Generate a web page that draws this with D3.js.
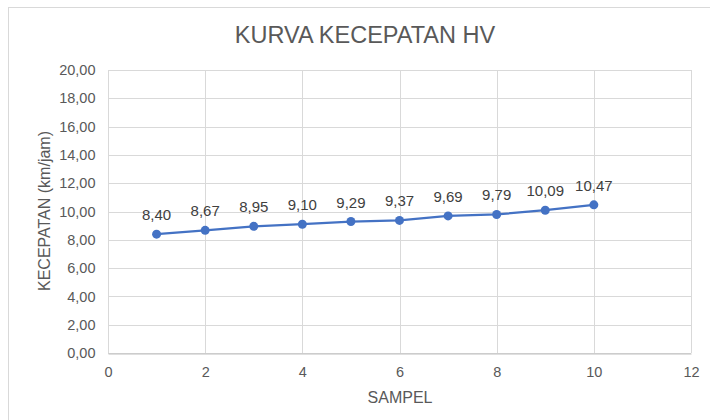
<!DOCTYPE html>
<html>
  <head>
    <meta charset="utf-8">
    <title>Kurva Kecepatan HV</title>
    <script src="https://d3js.org/d3.v7.min.js"></script>
    <style>
      body { margin: 0; background: #fff; }
      text { font-family: "Liberation Sans", Arial, sans-serif; }
    </style>
  </head>
  <body>
    <script>
      const sampel = [1, 2, 3, 4, 5, 6, 7, 8, 9, 10];
      const kecepatan = [8.40, 8.67, 8.95, 9.10, 9.29, 9.37, 9.69, 9.79, 10.09, 10.47];
      const xTicks = [0, 2, 4, 6, 8, 10, 12];
      const yTicks = [0, 2, 4, 6, 8, 10, 12, 14, 16, 18, 20];

      const width = 710, height = 420;
      const margin = {top: 70, right: 19, bottom: 67, left: 108};

      const fmt = v => d3.format(".2f")(v).replace(".", ",");

      const svg = d3.select("body")
        .append("svg")
        .attr("width", width)
        .attr("height", height);

      // chart border
      svg.append("rect")
        .attr("x", 8.5)
        .attr("y", 7.5)
        .attr("width", width + 10)
        .attr("height", height + 10)
        .attr("fill", "#fff")
        .attr("stroke", "#d9d9d9");

      const x = d3.scaleLinear().domain([0, 12]).range([margin.left, width - margin.right]);
      const y = d3.scaleLinear().domain([0, 20]).range([height - margin.bottom, margin.top]);

      // gridlines
      svg.append("g")
        .selectAll("line")
        .data(yTicks)
        .join("line")
        .attr("x1", x(0))
        .attr("x2", x(12))
        .attr("y1", d => Math.round(y(d)) + 0.5)
        .attr("y2", d => Math.round(y(d)) + 0.5)
        .attr("stroke", "#d9d9d9");

      svg.append("g")
        .selectAll("line")
        .data(xTicks)
        .join("line")
        .attr("x1", d => Math.round(x(d)) + 0.5)
        .attr("x2", d => Math.round(x(d)) + 0.5)
        .attr("y1", y(0))
        .attr("y2", y(20))
        .attr("stroke", "#d9d9d9");

      // axes
      const xAxis = svg.append("g")
        .attr("transform", "translate(0," + (Math.round(y(0)) + 0.5) + ")")
        .call(d3.axisBottom(x).tickValues(xTicks).tickSize(0).tickPadding(13));
      xAxis.select(".domain").attr("stroke", "#bfbfbf");

      const yAxis = svg.append("g")
        .attr("transform", "translate(" + (Math.round(x(0)) + 0.5) + ",0)")
        .call(d3.axisLeft(y).tickValues(yTicks).tickFormat(fmt).tickSize(0).tickPadding(13));
      yAxis.select(".domain").remove();

      svg.selectAll(".tick text")
        .attr("fill", "#595959")
        .style("font-size", "14.5px")
        .style("font-family", "'Liberation Sans', Arial, sans-serif");

      // title
      svg.append("text")
        .attr("x", 365)
        .attr("y", 43)
        .attr("text-anchor", "middle")
        .attr("fill", "#595959")
        .style("font-size", "23.5px")
        .text("KURVA KECEPATAN HV");

      // axis titles
      svg.append("text")
        .attr("x", 400)
        .attr("y", 403)
        .attr("text-anchor", "middle")
        .attr("fill", "#595959")
        .style("font-size", "16px")
        .text("SAMPEL");

      svg.append("text")
        .attr("transform", "translate(50,211) rotate(-90)")
        .attr("text-anchor", "middle")
        .attr("fill", "#595959")
        .style("font-size", "16px")
        .text("KECEPATAN (km/jam)");

      const data = sampel.map((s, i) => ({s: s, v: kecepatan[i]}));

      const line = d3.line()
        .x(d => x(d.s))
        .y(d => y(d.v));

      svg.append("path")
        .datum(data)
        .attr("d", line)
        .attr("fill", "none")
        .attr("stroke", "#4472c4")
        .attr("stroke-width", 2.25);

      svg.selectAll("circle")
        .data(data)
        .join("circle")
        .attr("cx", d => x(d.s))
        .attr("cy", d => y(d.v))
        .attr("r", 4.5)
        .attr("fill", "#4472c4");

      svg.selectAll("text.label")
        .data(data)
        .join("text")
        .attr("class", "label")
        .attr("x", d => x(d.s))
        .attr("y", d => y(d.v) - 14)
        .attr("text-anchor", "middle")
        .attr("fill", "#404040")
        .style("font-size", "15px")
        .text(d => fmt(d.v));
    </script>
  </body>
</html>
